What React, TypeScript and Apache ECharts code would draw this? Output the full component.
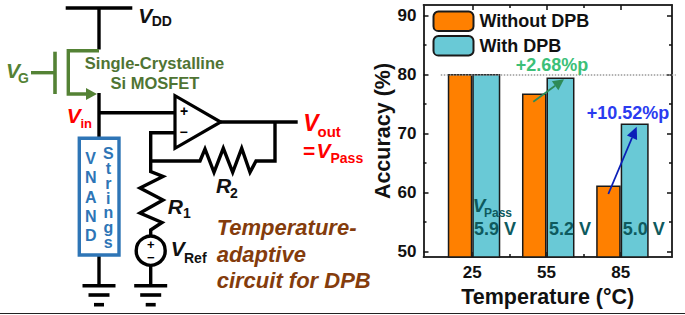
import React, { useEffect, useRef } from "react";
import * as echarts from "echarts";

const temperatures = [25, 55, 85];
const withoutDpb = [80.1, 76.8, 61.2];
const withDpb = [80.1, 79.5, 71.7];
const yMajor = [50, 60, 70, 80, 90];
const yMinor = [55, 65, 75, 85];
const xMajor = [25, 55, 85];
const xMinor = [40, 70];
const vPass = ["5.9 V", "5.2 V", "5.0 V"];
const vPassX = [474, 549, 622.7];

const SANS = "'Liberation Sans', Arial, sans-serif";
const INK = "#111111";
const GREEN = "#548235";
const BLUE = "#2E75B6";
const RED = "#FF0000";
const BROWN = "#843C0C";
const TEAL_TEXT = "#0E5A5E";

const X_MIN = 5.27;
const X_MAX = 105.74;
// The two bars of a group are unequal in width but meet at the tick,
// so the bars run on a hidden copy of the x axis offset by half the difference.
const BAR_SHIFT = 0.7;

type P = [number, number];

function txt(text: string, x: number, y: number, size: number, color: string, opts: any = {}) {
  return {
    type: "text",
    z: 20,
    silent: true,
    style: {
      text,
      x,
      y,
      fill: color,
      font: `${opts.italic ? "italic " : ""}bold ${size}px ${SANS}`,
      align: opts.align || "left",
      verticalAlign: "middle",
      lineHeight: opts.lineHeight,
    },
  };
}

function wire(points: P[], color = "#000000", width = 3.4) {
  return {
    type: "polyline",
    z: 12,
    silent: true,
    shape: { points },
    style: { stroke: color, lineWidth: width, fill: "none", lineJoin: "miter", lineCap: "butt" },
  };
}

function arrow(a: P, b: P, color: string, width: number, len: number, half: number) {
  const dx = b[0] - a[0];
  const dy = b[1] - a[1];
  const d = Math.hypot(dx, dy);
  const ux = dx / d;
  const uy = dy / d;
  const base: P = [b[0] - ux * len, b[1] - uy * len];
  return [
    wire([a, base], color, width),
    {
      type: "polygon",
      z: 13,
      silent: true,
      shape: {
        points: [b, [base[0] - uy * half, base[1] + ux * half], [base[0] + uy * half, base[1] - ux * half]],
      },
      style: { fill: color },
    },
  ];
}

function ground(cx: number) {
  return [
    wire([[cx - 16.5, 285.7], [cx + 16.5, 285.7]], "#000", 3.6),
    wire([[cx - 10.5, 295], [cx + 10.5, 295]], "#000", 3.6),
    wire([[cx - 5, 304.7], [cx + 5, 304.7]], "#000", 3.6),
  ];
}

function circuit() {
  return [
    // supply and transistor
    wire([[65.7, 8], [132.3, 8]]),
    wire([[99, 8], [99, 49.5]]),
    wire([[99, 50.7], [68.3, 50.7], [68.3, 94], [88, 94]], GREEN, 3.4),
    { type: "polygon", z: 13, silent: true, shape: { points: [[97, 94], [86, 88], [86, 100]] }, style: { fill: GREEN } },
    wire([[55, 51.7], [55, 94]], GREEN, 3.6),
    wire([[31, 72.7], [55, 72.7]], GREEN, 3.4),
    // input node
    wire([[99, 93], [99, 138]]),
    wire([[99, 112.7], [175, 112.7]]),
    // NAND string box
    wire([[99, 255], [99, 286]]),
    {
      type: "rect",
      z: 12,
      silent: true,
      shape: { x: 79.3, y: 138.3, width: 39.7, height: 116.7 },
      style: { fill: "#ffffff", stroke: BLUE, lineWidth: 3.4 },
    },
    // feedback and resistors
    wire([[220.7, 122], [297.7, 122]]),
    wire([[275, 122], [275, 161], [256, 161], [250, 172.3], [241.7, 148.3], [232.7, 172.3], [223.3, 148.3], [214, 172.3], [205, 149], [200, 161], [150.7, 161]]),
    wire([[175, 132.7], [150.7, 132.7], [150.7, 171.7], [163, 176.5], [140, 188], [163, 200], [140, 213], [162, 222.5], [150.7, 230], [150.7, 236]]),
    wire([[150.7, 265], [150.7, 286]]),
    {
      type: "polygon",
      z: 13,
      silent: true,
      shape: { points: [[175, 95.7], [175, 148.3], [220.7, 122]] },
      style: { fill: "#ffffff", stroke: "#000", lineWidth: 3.2, lineJoin: "miter" },
    },
    { type: "circle", z: 13, silent: true, shape: { cx: 150.7, cy: 250.7, r: 14.5 }, style: { fill: "#fff", stroke: "#000", lineWidth: 3.4 } },
    ...ground(99),
    ...ground(150.7),
    // labels
    txt("V", 138.3, 15, 21, INK, { italic: true }),
    txt("DD", 151.7, 20.7, 14, INK),
    txt("V", 6, 70.7, 21, GREEN, { italic: true }),
    txt("G", 18, 78, 14, GREEN),
    txt("Single-Crystalline", 154.5, 63.3, 16.5, "#4F7433", { align: "center" }),
    txt("Si MOSFET", 155, 83.3, 16.5, "#4F7433", { align: "center" }),
    txt("V", 66.7, 115, 21, RED, { italic: true }),
    txt("in", 80.5, 123.3, 13, RED),
    txt("+", 184, 111, 14, "#000", { align: "center" }),
    txt("\u2212", 183.5, 132.2, 14, "#000", { align: "center" }),
    txt("+", 150.7, 244, 13, "#000", { align: "center" }),
    txt("\u2212", 150.7, 257, 13, "#000", { align: "center" }),
    txt("V\nN\nA\nN\nD", 90.7, 197, 16, BLUE, { align: "center", lineHeight: 19.2 }),
    txt("S\nt\nr\ni\nn\ng\ns", 108.3, 198, 16, BLUE, { align: "center", lineHeight: 14.9 }),
    txt("V", 303.3, 123.3, 23, RED, { italic: true }),
    txt("out", 317.5, 131.7, 15, RED),
    txt("=", 303, 150, 21, RED),
    txt("V", 316.5, 150, 21, RED, { italic: true }),
    txt("Pass", 330.5, 157.7, 14, RED),
    txt("R", 167.7, 206, 21, INK, { italic: true }),
    txt("1", 183, 213.3, 14, INK),
    txt("R", 216, 185, 21, INK, { italic: true }),
    txt("2", 230, 193, 14, INK),
    txt("V", 170.7, 248.3, 21, INK, { italic: true }),
    txt("Ref", 184, 258.3, 14, INK),
    txt("Temperature-\nadaptive\ncircuit for DPB", 216.7, 254, 22, BROWN, { italic: true, lineHeight: 26.4 }),
    // rule along the bottom of the figure
    wire([[0, 313.5], [685, 313.5]], "#222222", 1.2),
  ];
}

function annotations() {
  return [
    txt("+2.68%p", 515.7, 65, 18, "#3CBF78"),
    txt("+10.52%p", 586.7, 113.3, 18, "#2A3CF0"),
    ...arrow([533.3, 101.7], [564, 79.3], "#2E8B57", 1.8, 11, 5.5),
    ...arrow([608.3, 194], [636.7, 126.7], "#0B1FB8", 1.8, 12, 5.5),
    txt("V", 472.7, 205.7, 19, TEAL_TEXT, { italic: true }),
    txt("Pass", 484, 212.7, 12, TEAL_TEXT),
    ...vPass.map((t, i) => txt(t, vPassX[i], 229, 18, TEAL_TEXT)),
  ];
}

function xAxisDef(position: string, values: number[], length: number, labels: boolean) {
  return {
    type: "value",
    position,
    min: X_MIN,
    max: X_MAX,
    axisLine: { show: true, onZero: false, lineStyle: { color: "#222", width: 1.5 } },
    axisTick: { show: true, inside: true, length, customValues: values, lineStyle: { color: "#111", width: 1.5 } },
    axisLabel: labels
      ? { show: true, customValues: values, margin: 7, color: INK, fontSize: 17, fontWeight: "bold", fontFamily: SANS }
      : { show: false },
    splitLine: { show: false },
  };
}

function yAxisDef(position: string, values: number[], length: number, labels: boolean) {
  return {
    type: "value",
    position,
    min: 49.1,
    max: 91.8,
    axisLine: { show: true, onZero: false, lineStyle: { color: "#222", width: 1.5 } },
    axisTick: { show: true, inside: true, length, customValues: values, lineStyle: { color: "#111", width: 1.5 } },
    axisLabel: labels
      ? { show: true, customValues: values, margin: 7, color: INK, fontSize: 17, fontWeight: "bold", fontFamily: SANS }
      : { show: false },
    splitLine: { show: false },
  };
}

export default function App() {
  const ref = useRef<HTMLDivElement>(null);
  useEffect(() => {
    document.body.style.margin = "0";
    const chart = echarts.init(ref.current!, undefined, { renderer: "svg" });
    chart.setOption({
      animation: false,
      backgroundColor: "#ffffff",
      grid: { left: 423.5, top: 5, right: 13, bottom: 58, containLabel: false },
      legend: {
        left: 432.5,
        top: 10.5,
        padding: 0,
        orient: "vertical",
        itemWidth: 40,
        itemHeight: 19.5,
        itemGap: 3,
        selectedMode: false,
        data: ["Without DPB", "With DPB"],
        textStyle: { color: INK, fontSize: 18, fontWeight: "bold", fontFamily: SANS, padding: [0, 0, 0, 1] },
      },
      xAxis: [
        {
          ...xAxisDef("bottom", xMajor, 5, true),
          name: "Temperature (\u00B0C)",
          nameLocation: "middle",
          nameGap: 24,
          nameTextStyle: { color: INK, fontSize: 21.5, fontWeight: "bold", fontFamily: SANS },
        },
        xAxisDef("top", xMajor, 5, false),
        xAxisDef("bottom", xMinor, 3, false),
        xAxisDef("top", xMinor, 3, false),
        { type: "value", show: false, min: X_MIN - BAR_SHIFT, max: X_MAX - BAR_SHIFT },
      ],
      yAxis: [
        {
          ...yAxisDef("left", yMajor, 5, true),
          name: "Accuracy (%)",
          nameLocation: "middle",
          nameGap: 29,
          nameTextStyle: { color: INK, fontSize: 21.5, fontWeight: "bold", fontFamily: SANS },
        },
        yAxisDef("right", yMajor, 5, false),
        yAxisDef("left", yMinor, 3, false),
        yAxisDef("right", yMinor, 3, false),
      ],
      series: [
        {
          name: "Without DPB",
          type: "bar",
          xAxisIndex: 4,
          yAxisIndex: 0,
          barWidth: 24.5,
          barGap: "0%",
          itemStyle: { color: "#FF8000", borderColor: "#1a1a1a", borderWidth: 1.5 },
          data: temperatures.map((t, i) => [t, withoutDpb[i]]),
        },
        {
          name: "With DPB",
          type: "bar",
          xAxisIndex: 4,
          yAxisIndex: 0,
          barWidth: 28,
          barGap: "0%",
          itemStyle: { color: "#69C9D6", borderColor: "#1a1a1a", borderWidth: 1.5 },
          data: temperatures.map((t, i) => [t, withDpb[i]]),
          markLine: {
            silent: true,
            symbol: "none",
            label: { show: false },
            lineStyle: { type: "dotted", color: "#999999", width: 1.5 },
            data: [[{ coord: [6.6, 80] }, { coord: [101.6, 80] }]],
          },
        },
      ],
      graphic: { elements: [...circuit(), ...annotations()] },
    });
    return () => chart.dispose();
  }, []);
  return <div ref={ref} style={{ width: 685, height: 315 }} />;
}
